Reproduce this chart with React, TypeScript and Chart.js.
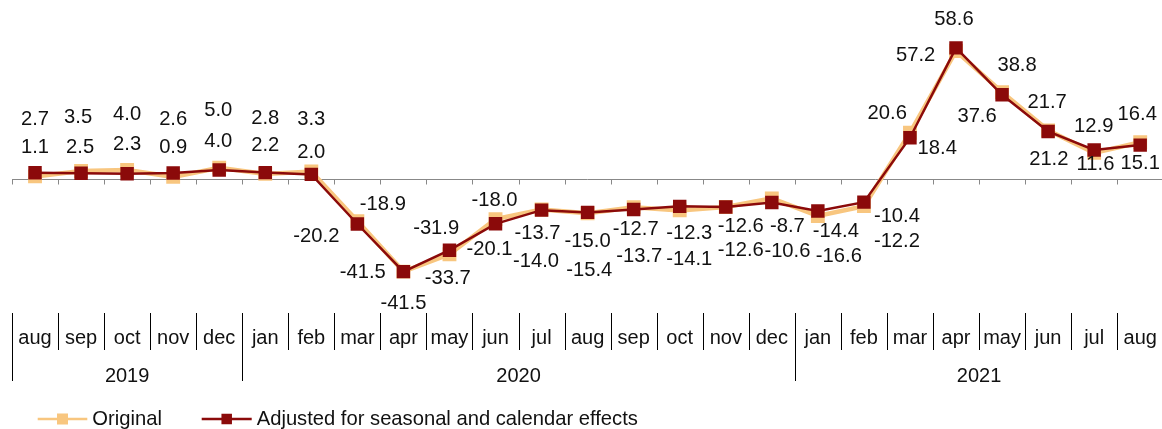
import React, { useEffect, useRef } from "react";
import { Chart, registerables } from "chart.js";

Chart.register(...registerables);

// ---------------- data ----------------
const months = [
  "aug", "sep", "oct", "nov", "dec",
  "jan", "feb", "mar", "apr", "may", "jun", "jul", "aug", "sep", "oct", "nov", "dec",
  "jan", "feb", "mar", "apr", "may", "jun", "jul", "aug",
];
const years = ["2019", "2020", "2021"];
const yearMonthCounts = [5, 12, 8];

const original = [
  1.1, 3.5, 4.0, 0.9, 5.0,
  2.2, 3.3, -18.9, -41.5, -33.7, -18.0, -13.7, -15.4, -12.7, -14.1, -12.6, -8.7,
  -16.6, -12.2, 20.6, 57.2, 38.8, 21.7, 11.6, 16.4,
];
const adjusted = [
  2.7, 2.5, 2.3, 2.6, 4.0,
  2.8, 2.0, -20.2, -41.5, -31.9, -20.1, -14.0, -15.0, -13.7, -12.3, -12.6, -10.6,
  -14.4, -10.4, 18.4, 58.6, 37.6, 21.2, 12.9, 15.1,
];
const seriesNames = ["Original", "Adjusted for seasonal and calendar effects"];

// ---------------- label placement (pixel offsets from each point) ----------------
const origLabelDx = [0, -3, 0, 0, -1, 0, 0, 25.5, 0, -1.7, -1, -4, 1.7, 2, 9.5, 15, 15.6, 21, 33, -22.7, -40.4, 15, -1, 1.3, -3];
const origLabelDy = [-28.5, -54, -55, -29, -57, -29, -51.6, -16.3, 31.5, 24, -19, 24, 57, 22.6, 49.5, 19.5, 28, 40.6, 35.7, -19.6, 4, -27, -28, 12, -27.3];
const adjLabelDx = [0, -1, 0, 0, -1, 0, 0, -41, -40.6, -13.3, -6, -5.5, 0, 5.6, 9.5, 15, 15.6, 18, 33, 27.3, -2, -25, 0.7, -0.4, 0];
const adjLabelDy = [-53, -26, -29, -54, -28, -53.7, -21.5, 12, 1, -22, 26, 51, 29, 47, 27, 43, 49, 20.5, 14.7, 10.4, -28, 21.8, 28.4, -23.5, 18];

// ---------------- styles ----------------
const FONT = "'Liberation Sans', Arial, sans-serif";
const LIGHT = "#F8C67F";
const DARK = "#8B0A0A";
const TEXT = "#111111";
const AXIS_GREY = "#888888";

const overlayPlugin = {
  id: "overlay",
  beforeDatasetsDraw(chart: any) {
    const { ctx, chartArea: a, scales } = chart;
    const x = scales.x;
    const y = scales.y;
    const n = months.length;
    const step = x.getPixelForValue(1) - x.getPixelForValue(0);
    const y0 = Math.round(y.getPixelForValue(0)) + 0.5;
    ctx.save();
    ctx.strokeStyle = AXIS_GREY;
    ctx.lineWidth = 1;
    ctx.beginPath();
    ctx.moveTo(a.left, y0);
    ctx.lineTo(a.right, y0);
    for (let i = 0; i <= n; i++) {
      const bx = Math.round(x.getPixelForValue(i) - step / 2) + 0.5;
      ctx.moveTo(bx, y0);
      ctx.lineTo(bx, y0 + 5);
    }
    ctx.stroke();
    ctx.restore();
  },
  afterDraw(chart: any) {
    const { ctx, chartArea: a, scales } = chart;
    const x = scales.x;
    const n = months.length;
    const step = x.getPixelForValue(1) - x.getPixelForValue(0);
    ctx.save();

    // category separators
    const yearBounds = new Set<number>();
    let acc = 0;
    yearBounds.add(0);
    yearMonthCounts.forEach((c) => {
      acc += c;
      yearBounds.add(acc);
    });
    ctx.strokeStyle = "#000";
    ctx.lineWidth = 1;
    ctx.beginPath();
    for (let i = 0; i <= n; i++) {
      const bx = Math.round(x.getPixelForValue(i) - step / 2) + 0.5;
      ctx.moveTo(bx, a.bottom);
      ctx.lineTo(bx, a.bottom + (yearBounds.has(i) ? 68 : 37));
    }
    ctx.stroke();

    // year labels
    ctx.fillStyle = TEXT;
    ctx.font = `20px ${FONT}`;
    ctx.textAlign = "center";
    ctx.textBaseline = "middle";
    let start = 0;
    years.forEach((yr, k) => {
      const end = start + yearMonthCounts[k] - 1;
      const cx = (x.getPixelForValue(start) + x.getPixelForValue(end)) / 2;
      ctx.fillText(yr, cx, a.bottom + 63);
      start += yearMonthCounts[k];
    });

    // data labels
    ctx.font = `20.2px ${FONT}`;
    const drawLabels = (dsIndex: number, values: number[], dx: number[], dy: number[]) => {
      const meta = chart.getDatasetMeta(dsIndex);
      meta.data.forEach((pt: any, i: number) => {
        ctx.fillText(values[i].toFixed(1), pt.x + dx[i], pt.y + dy[i]);
      });
    };
    drawLabels(0, original, origLabelDx, origLabelDy);
    drawLabels(1, adjusted, adjLabelDx, adjLabelDy);

    // legend
    const ly = 419;
    const items = [
      { color: LIGHT, x0: 37.7, x1: 87.3, sq: 11, tx: 92.3, lw: 2.7 },
      { color: DARK, x0: 201.7, x1: 251.7, sq: 10.5, tx: 256.7, lw: 2.5 },
    ];
    items.forEach((it, k) => {
      ctx.strokeStyle = it.color;
      ctx.lineWidth = it.lw;
      ctx.beginPath();
      ctx.moveTo(it.x0, ly);
      ctx.lineTo(it.x1, ly);
      ctx.stroke();
      ctx.fillStyle = it.color;
      const cx = (it.x0 + it.x1) / 2;
      ctx.fillRect(cx - it.sq / 2, ly - it.sq / 2, it.sq, it.sq);
      ctx.fillStyle = TEXT;
      ctx.textAlign = "left";
      ctx.font = `20.2px ${FONT}`;
      ctx.fillText(seriesNames[k], it.tx, ly);
    });

    ctx.restore();
  },
};

export default function App() {
  const canvasRef = useRef<HTMLCanvasElement | null>(null);

  useEffect(() => {
    const canvas = canvasRef.current;
    if (!canvas) return;
    const chart = new Chart(canvas, {
      type: "line",
      data: {
        labels: months,
        datasets: [
          {
            label: seriesNames[0],
            data: original,
            borderColor: LIGHT,
            backgroundColor: LIGHT,
            borderWidth: 4.5,
            pointStyle: "rect",
            pointRadius: 9.8,
            pointBackgroundColor: LIGHT,
            pointBorderWidth: 0,
            tension: 0,
            order: 2,
          },
          {
            label: seriesNames[1],
            data: adjusted,
            borderColor: DARK,
            backgroundColor: DARK,
            borderWidth: 2.5,
            pointStyle: "rect",
            pointRadius: 9.5,
            pointBackgroundColor: DARK,
            pointBorderWidth: 0,
            tension: 0,
            order: 1,
          },
        ],
      },
      options: {
        responsive: false,
        animation: false,
        events: [],
        layout: { autoPadding: false, padding: { left: 12, right: 5.4, top: 0, bottom: 66 } },
        plugins: {
          legend: { display: false },
          tooltip: { enabled: false },
        },
        scales: {
          x: {
            type: "category",
            offset: true,
            grid: { display: false, drawTicks: false },
            border: { display: false },
            ticks: {
              color: TEXT,
              font: { family: FONT, size: 20 },
              padding: 13,
              maxRotation: 0,
              autoSkip: false,
            },
          },
          y: {
            display: false,
            min: -60,
            max: 80,
          },
        },
      },
      plugins: [overlayPlugin],
    });
    return () => chart.destroy();
  }, []);

  return (
    <div
      style={{
        position: "fixed",
        left: 0,
        top: 0,
        width: 1162,
        height: 429,
        overflow: "hidden",
        background: "#fff",
      }}
    >
      <canvas ref={canvasRef} width={1170} height={429} style={{ width: 1170, height: 429, display: "block" }} />
    </div>
  );
}
